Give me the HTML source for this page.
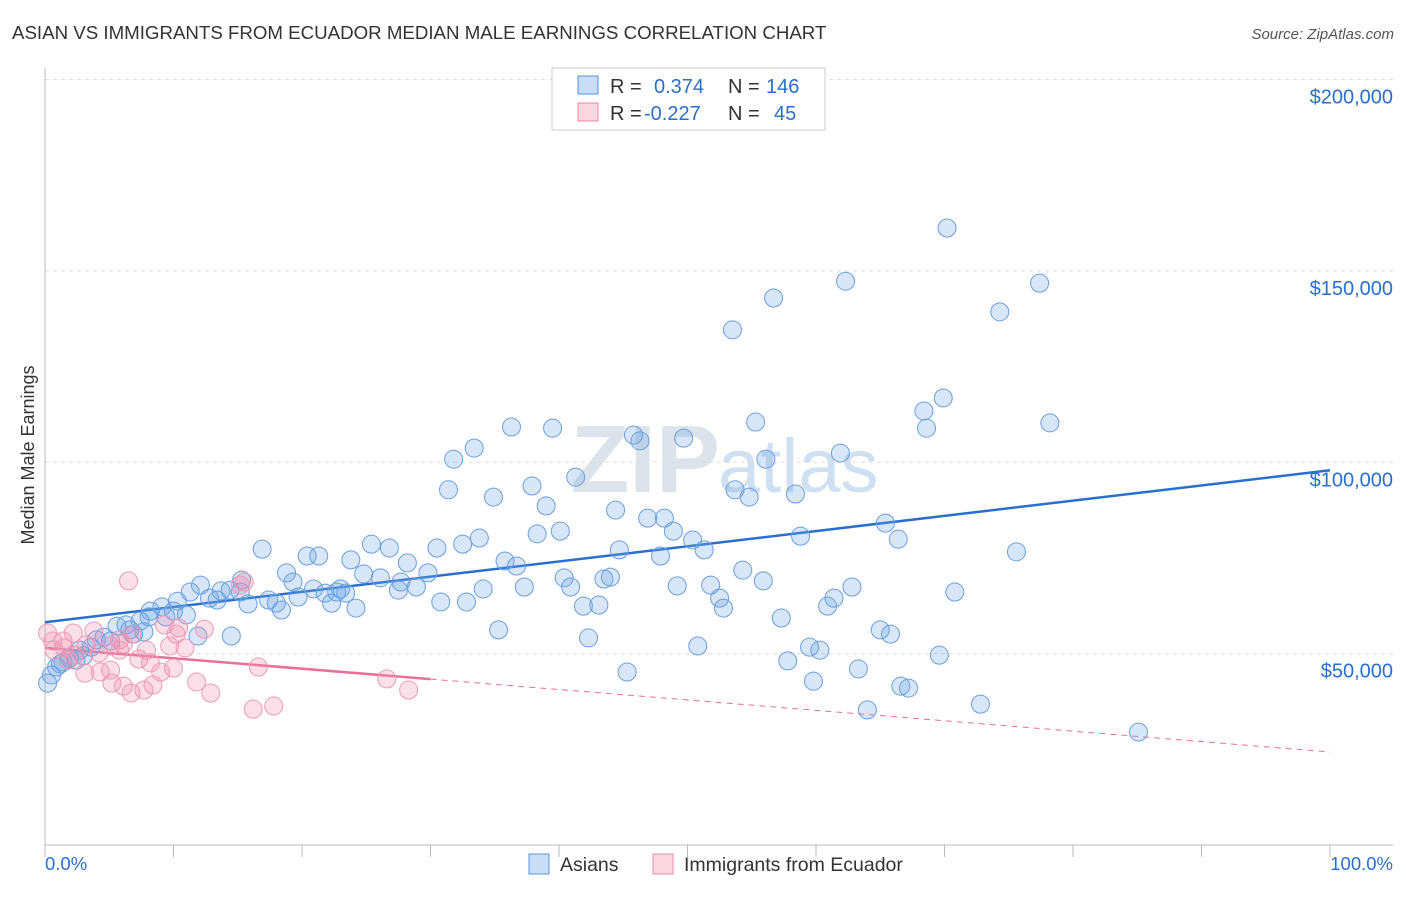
<!DOCTYPE html>
<html><head><meta charset="utf-8"><style>
body{margin:0;background:#fff;font-family:"Liberation Sans",sans-serif;}
svg text{font-family:"Liberation Sans",sans-serif;}
</style></head><body>
<svg id="chart" width="1406" height="892">
<text x="12" y="39" font-size="18.7" fill="#333">ASIAN VS IMMIGRANTS FROM ECUADOR MEDIAN MALE EARNINGS CORRELATION CHART</text>
<text x="1394" y="39" font-size="15" fill="#555" font-style="italic" text-anchor="end">Source: ZipAtlas.com</text>
<text transform="translate(34,455) rotate(-90)" font-size="18" fill="#333" text-anchor="middle">Median Male Earnings</text>
<text x="720" y="492" font-size="96" fill="#dde3ea" text-anchor="end" font-family="Liberation Serif" font-weight="bold">ZIP</text>
<text x="718" y="492" font-size="76" fill="#cfe0f3">atlas</text>
<g id="grid"></g><g id="axes"></g><g id="trend"></g><g id="pts"></g>
<g>
<rect x="552" y="68" width="273" height="62" fill="#fff" stroke="#ccc"/>
<rect x="578" y="76" width="20" height="18" fill="rgba(100,160,230,0.35)" stroke="#5b95dc"/>
<text x="610" y="93" font-size="20" fill="#333">R = </text><text x="654" y="93" font-size="20" fill="#2a6fd0">0.374</text>
<text x="728" y="93" font-size="20" fill="#333">N = </text><text x="766" y="93" font-size="20" fill="#2a6fd0">146</text>
<rect x="578" y="103" width="20" height="18" fill="rgba(240,140,170,0.35)" stroke="#e88aa8"/>
<text x="610" y="120" font-size="20" fill="#333">R = </text><text x="644" y="120" font-size="20" fill="#2a6fd0">-0.227</text>
<text x="728" y="120" font-size="20" fill="#333">N = </text><text x="774" y="120" font-size="20" fill="#2a6fd0">45</text>
</g>
<g>
<rect x="529" y="854" width="20" height="20" fill="rgba(100,160,230,0.35)" stroke="#5b95dc"/>
<text x="560" y="871" font-size="19.5" fill="#333">Asians</text>
<rect x="653" y="854" width="20" height="20" fill="rgba(240,140,170,0.35)" stroke="#e88aa8"/>
<text x="684" y="871" font-size="19.5" fill="#333">Immigrants from Ecuador</text>
</g>
<text x="45" y="870" font-size="18.5" fill="#2a6fd0">0.0%</text>
<text x="1393" y="870" font-size="18.5" fill="#2a6fd0" text-anchor="end">100.0%</text>
</svg>
<script>
const yTicks=[50000,100000,150000,200000];
const yTickLabels=["$50,000","$100,000","$150,000","$200,000"];
const asianX=[70.2,62.3,77.4,56.7,74.3,53.5,69.9,68.4,55.3,68.6,78.2,36.3,39.5,45.8,46.3,49.7,31.8,33.4,56.1,61.9,31.4,34.9,37.9,41.3,39.0,53.7,54.8,58.4,44.4,46.9,48.2,48.9,65.4,38.3,40.1,66.4,50.4,51.3,58.8,30.5,32.5,33.8,25.4,26.8,16.9,20.4,21.3,23.8,35.8,36.7,44.7,47.9,75.6,28.2,18.8,24.8,26.1,29.8,40.4,40.9,43.5,44.0,54.3,55.9,62.8,49.2,51.8,19.3,20.9,23.0,23.4,27.7,28.9,27.5,15.3,15.2,14.4,13.7,12.1,11.3,10.3,9.1,10.0,12.8,13.4,17.4,18.0,19.7,21.8,22.7,22.3,34.1,37.3,30.8,32.8,41.9,43.1,52.5,52.8,60.9,61.4,70.8,15.8,18.4,24.2,9.4,11.0,8.1,7.4,8.2,6.6,5.6,6.3,6.9,7.7,4.6,4.0,3.6,5.1,14.5,11.9,35.3,42.3,50.8,57.3,59.5,60.3,65.0,65.8,69.6,57.8,63.3,45.3,59.8,66.6,67.2,72.8,64.0,85.1,3.0,2.4,1.9,1.4,0.9,0.5,0.2,1.2,2.7];
const asianY=[161.2,147.3,146.8,142.9,139.3,134.6,116.8,113.4,110.5,108.9,110.3,109.2,108.9,107.1,105.6,106.3,100.8,103.7,100.8,102.4,92.8,90.9,93.8,96.1,88.6,92.8,90.9,91.7,87.5,85.4,85.4,82.0,84.1,81.3,82.0,79.9,79.7,77.1,80.7,77.6,78.6,80.2,78.6,77.6,77.3,75.5,75.5,74.5,74.2,72.9,77.1,75.5,76.6,73.7,71.1,70.8,69.8,71.1,69.8,67.4,69.5,70.0,71.8,69.0,67.4,67.7,67.9,68.7,66.9,66.9,65.8,68.7,67.4,66.6,69.2,66.1,66.6,66.4,67.9,66.1,63.7,62.2,61.1,64.5,64.0,64.0,63.2,64.8,65.8,66.1,63.2,66.9,67.4,63.5,63.5,62.4,62.7,64.5,61.9,62.4,64.5,66.1,63.0,61.4,61.9,59.6,60.1,59.6,58.5,61.1,56.2,57.2,57.5,55.1,55.7,54.3,53.6,51.7,53.3,54.6,54.6,56.2,54.1,52.0,59.3,51.7,50.9,56.2,55.1,49.6,48.1,46.0,45.2,42.8,41.5,41.0,36.8,35.3,29.5,49.4,48.3,48.9,47.8,46.5,44.4,42.3,47.3,50.9];
const ecuX=[6.5,0.2,0.6,1.4,2.2,3.8,0.7,1.5,2.3,3.2,4.2,5.1,5.8,6.8,6.1,5.8,9.3,10.4,10.2,12.4,15.2,15.5,10.9,7.9,9.7,7.3,8.2,10.0,9.0,3.1,4.3,5.1,5.2,6.1,6.7,7.7,8.4,11.8,12.9,16.6,26.6,28.3,16.2,17.8,1.8];
const ecuY=[69.0,55.4,53.3,53.3,55.4,55.9,50.9,51.5,49.6,52.3,50.2,52.0,53.6,55.1,52.5,50.9,57.5,56.7,55.1,56.4,67.9,68.7,51.5,50.9,52.0,48.6,47.6,46.2,45.2,44.9,45.2,45.7,42.3,41.5,39.7,40.5,41.8,42.6,39.7,46.5,43.4,40.5,35.5,36.3,48.3];
const asianTrend=[58.2,97.9];
const ecuTrend=[51.5,24.3];
const ecuSolidEnd=30;
const NS="http://www.w3.org/2000/svg";
const X0=45,X1=1330,Y0=845;
const xs=p=>X0+(X1-X0)*p/100;
const ys=k=>Y0-k*3.8275;
function mk(tag,attrs,parent){const e=document.createElementNS(NS,tag);for(const k in attrs)e.setAttribute(k,attrs[k]);document.getElementById(parent).appendChild(e);return e;}
yTicks.forEach((t,i)=>{
 const l=mk('line',{x1:45,x2:1393,y1:ys(t/1000),y2:ys(t/1000),stroke:'#ddd','stroke-dasharray':'4,4'},'grid');
 
 
 const tx=mk('text',{x:1393,y:ys(t/1000)+24,'font-size':20,fill:'#2a6fd0','text-anchor':'end'},'grid');
 tx.textContent=yTickLabels[i];
 
 
});
const ax=mk('line',{x1:45,x2:1393,y1:Y0,y2:Y0,stroke:'#bbb'},'axes');


const ay=mk('line',{x1:45,x2:45,y1:68,y2:Y0,stroke:'#bbb'},'axes');


for(let i=0;i<=10;i++){const t=mk('line',{x1:xs(i*10),x2:xs(i*10),y1:Y0,y2:Y0+12,stroke:'#bbb'},'axes');
 
 }
function pts(X,Y,fill,stroke,name){X.forEach((x,i)=>{const c=mk('circle',{cx:xs(x),cy:ys(Y[i]),r:9,fill:fill,stroke:stroke,'stroke-width':1},'pts');
 
 });}
pts(asianX,asianY,'rgba(110,165,230,0.28)','#6a9fe0','asian-point');
pts(ecuX,ecuY,'rgba(240,145,175,0.28)','#ec9ab4','ecuador-point');
const bt=mk('line',{x1:xs(0),y1:ys(asianTrend[0]),x2:xs(100),y2:ys(asianTrend[1]),stroke:'#2a6fd0','stroke-width':2.5},'trend');


const em=ecuTrend[0]+(ecuTrend[1]-ecuTrend[0])*ecuSolidEnd/100;
const pt=mk('line',{x1:xs(0),y1:ys(ecuTrend[0]),x2:xs(ecuSolidEnd),y2:ys(em),stroke:'#e8709a','stroke-width':2.5},'trend');


const pd=mk('line',{x1:xs(ecuSolidEnd),y1:ys(em),x2:xs(100),y2:ys(ecuTrend[1]),stroke:'#e8709a','stroke-width':1,'stroke-dasharray':'6,5'},'trend');


</script>
</body></html>
